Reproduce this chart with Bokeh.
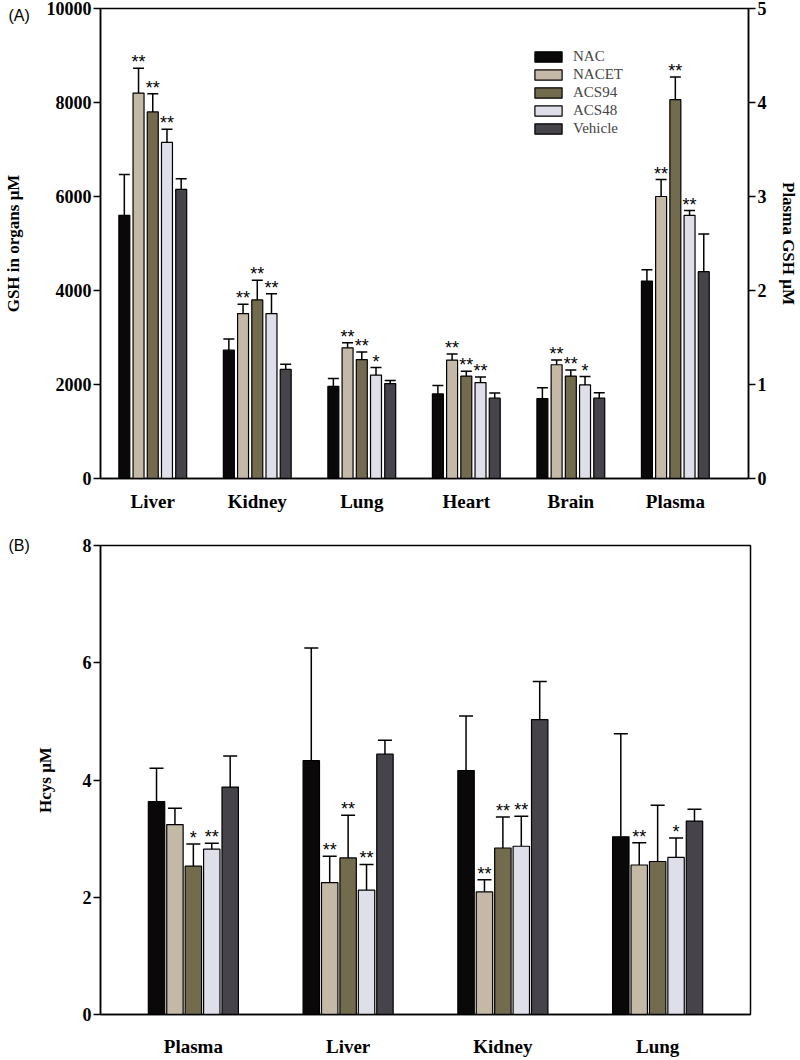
import numpy as np
from bokeh.plotting import figure
from bokeh.models import (Range1d, LinearAxis, FixedTicker, Legend, LegendItem,
                          Whisker, TeeHead, ColumnDataSource, Label)
from bokeh.layouts import column
from bokeh.embed import file_html
from bokeh.resources import INLINE
from bokeh.core.properties import value

# ---------------- data ----------------
series = ["NAC", "NACET", "ACS94", "ACS48", "Vehicle"]
colors = ["#0b0809", "#c4b9a7", "#736b4e", "#dfdfe9", "#46434b"]

# Panel A: GSH in organs (left axis) and plasma (right axis)
organs_A = ["Liver", "Kidney", "Lung", "Heart", "Brain"]
gsh_nac = [5600, 2730, 1960, 1800, 1700]
gsh_nac_err = [870, 240, 170, 180, 230]
gsh_nacet = [8200, 3510, 2780, 2520, 2420]
gsh_nacet_err = [530, 200, 110, 130, 100]
gsh_acs94 = [7800, 3800, 2530, 2180, 2180]
gsh_acs94_err = [385, 420, 160, 100, 130]
gsh_acs48 = [7150, 3510, 2200, 2040, 1990]
gsh_acs48_err = [280, 420, 160, 120, 180]
gsh_vehicle = [6150, 2320, 2020, 1710, 1710]
gsh_vehicle_err = [230, 110, 65, 110, 115]
gsh_stars = [["", "", "", "", ""],
             ["**", "**", "**", "**", "**"],
             ["**", "**", "**", "**", "**"],
             ["**", "**", "*", "**", "*"],
             ["", "", "", "", ""]]

plasma_label = "Plasma"
plasma_gsh = [2.10, 3.00, 4.03, 2.80, 2.20]
plasma_gsh_err = [0.12, 0.18, 0.24, 0.05, 0.40]
plasma_gsh_stars = ["", "**", "**", "**", ""]

# Panel B: Hcys
groups_B = ["Plasma", "Liver", "Kidney", "Lung"]
hcys_nac = [3.63, 4.33, 4.16, 3.03]
hcys_nac_err = [0.57, 1.92, 0.93, 1.76]
hcys_nacet = [3.24, 2.25, 2.09, 2.55]
hcys_nacet_err = [0.28, 0.45, 0.21, 0.38]
hcys_acs94 = [2.53, 2.67, 2.84, 2.61]
hcys_acs94_err = [0.38, 0.73, 0.53, 0.96]
hcys_acs48 = [2.82, 2.12, 2.87, 2.68]
hcys_acs48_err = [0.10, 0.44, 0.51, 0.33]
hcys_vehicle = [3.88, 4.44, 5.03, 3.30]
hcys_vehicle_err = [0.53, 0.24, 0.65, 0.20]
hcys_stars = [["", "", "", ""],
              ["", "**", "**", "**"],
              ["*", "**", "**", ""],
              ["**", "**", "**", "*"],
              ["", "", "", ""]]

gsh_vals = [gsh_nac, gsh_nacet, gsh_acs94, gsh_acs48, gsh_vehicle]
gsh_errs = [gsh_nac_err, gsh_nacet_err, gsh_acs94_err, gsh_acs48_err, gsh_vehicle_err]
hcys_vals = [hcys_nac, hcys_nacet, hcys_acs94, hcys_acs48, hcys_vehicle]
hcys_errs = [hcys_nac_err, hcys_nacet_err, hcys_acs94_err, hcys_acs48_err, hcys_vehicle_err]

SERIF = "Liberation Serif"
SANS = "Liberation Sans"


def style_axis(ax, size="18px"):
    ax.axis_line_width = 1.5
    ax.axis_line_color = "black"
    ax.major_tick_line_width = 1.5
    ax.major_tick_line_color = "black"
    ax.major_tick_in = 0
    ax.major_tick_out = 7
    ax.minor_tick_line_color = None
    ax.major_label_text_font = SERIF
    ax.major_label_text_font_style = "bold"
    ax.major_label_text_font_size = size
    ax.major_label_text_color = "black"
    ax.major_label_standoff = 2
    ax.axis_label_text_font = SERIF
    ax.axis_label_text_font_style = "bold"
    ax.axis_label_text_font_size = "17px"
    ax.axis_label_text_color = "black"


def style_xaxis(ax, labels, standoff):
    ax.ticker = FixedTicker(ticks=list(range(len(labels))))
    ax.major_label_overrides = {i: lab for i, lab in enumerate(labels)}
    ax.axis_line_width = 1.5
    ax.axis_line_color = "black"
    ax.major_tick_line_color = None
    ax.major_tick_in = 0
    ax.major_tick_out = 0
    ax.minor_tick_line_color = None
    ax.major_label_text_font = SERIF
    ax.major_label_text_font_style = "bold"
    ax.major_label_text_font_size = "19px"
    ax.major_label_text_color = "black"
    ax.major_label_standoff = standoff


def draw_series(p, xs, vals, errs, stars, color, width, cap, range_name="default"):
    vals = np.asarray(vals, dtype=float)
    errs = np.asarray(errs, dtype=float)
    src = ColumnDataSource(dict(x=xs, top=vals, hi=vals + errs))
    r = p.vbar(x="x", top="top", bottom=0, width=width, source=src,
               fill_color=color, line_color="black", line_width=1.2,
               y_range_name=range_name)
    w = Whisker(source=src, base="x", lower="top", upper="hi", dimension="height",
                lower_head=None,
                upper_head=TeeHead(size=cap, line_width=1.5, line_color="black"),
                line_color="black", line_width=1.5, y_range_name=range_name)
    p.add_layout(w)
    sx = [x for x, s in zip(xs, stars) if s]
    sy = [h for h, s in zip(vals + errs, stars) if s]
    st = [s for s in stars if s]
    if st:
        p.text(x=sx, y=sy, text=st, text_align="center", text_baseline="bottom",
               text_font=value(SANS), text_font_size="18px", text_color="black",
               y_offset=4, y_range_name=range_name)
    return r


# ---------------- Panel A ----------------
FH_A = 470
pA = figure(frame_width=648, frame_height=FH_A, x_range=Range1d(-0.5, 5.7),
            y_range=Range1d(0, 10000), output_backend="svg", toolbar_location=None,
            min_border_left=97, min_border_right=55, min_border_top=8,
            min_border_bottom=59, background_fill_color="white",
            border_fill_color="white")
pA.extra_y_ranges = {"plasma": Range1d(0, 5)}
pA.grid.visible = False
pA.outline_line_color = "black"
pA.outline_line_width = 1.5

pA.yaxis.ticker = FixedTicker(ticks=[0, 2000, 4000, 6000, 8000, 10000])
pA.yaxis.axis_label = "GSH in organs \u03bcM"
style_axis(pA.yaxis[0])
pA.yaxis.axis_label_standoff = 21

right_ax = LinearAxis(y_range_name="plasma", axis_label="Plasma GSH \u03bcM",
                      ticker=FixedTicker(ticks=[0, 1, 2, 3, 4, 5]))
style_axis(right_ax)
right_ax.axis_label_standoff = 9
pA.add_layout(right_ax, "right")

style_xaxis(pA.xaxis[0], organs_A + [plasma_label], 12)

offA = 0.136
wA = 0.105
renderers = []
base_A = np.arange(len(organs_A))
for i in range(5):
    xs = list(base_A + (i - 2) * offA)
    r = draw_series(pA, xs, gsh_vals[i], gsh_errs[i], gsh_stars[i], colors[i], wA, 11)
    renderers.append(r)
    xp = [len(organs_A) + (i - 2) * offA]
    draw_series(pA, xp, [plasma_gsh[i]], [plasma_gsh_err[i]], [plasma_gsh_stars[i]],
                colors[i], wA, 11, "plasma")

legend = Legend(items=[LegendItem(label=s, renderers=[r]) for s, r in zip(series, renderers)],
                location=(431, 341), glyph_width=34, glyph_height=13, label_height=13,
                spacing=1, padding=0, margin=0, label_standoff=8,
                label_text_font=SERIF, label_text_font_size="15px",
                border_line_color=None, background_fill_alpha=0)
pA.add_layout(legend)

# panel tag, placed in a side panel so it is not clipped to the frame
pA.add_layout(Label(x=-92, y=9850, x_units="screen", y_units="data", text="(A)",
                    text_font=SANS, text_font_size="16px", text_baseline="middle",
                    text_color="black"), "below")

# ---------------- Panel B ----------------
FH_B = 469
pB = figure(frame_width=650, frame_height=FH_B, x_range=Range1d(-0.6, 3.6),
            y_range=Range1d(0, 8), output_backend="svg", toolbar_location=None,
            min_border_left=97, min_border_right=53, min_border_top=8,
            min_border_bottom=44, background_fill_color="white",
            border_fill_color="white")
pB.grid.visible = False
pB.outline_line_color = "black"
pB.outline_line_width = 1.5
pB.yaxis.ticker = FixedTicker(ticks=[0, 2, 4, 6, 8])
pB.yaxis.axis_label = "Hcys \u03bcM"
style_axis(pB.yaxis[0])
pB.yaxis.axis_label_standoff = 25
style_xaxis(pB.xaxis[0], groups_B, 21)

offB = 0.119
wB = 0.106
base_B = np.arange(len(groups_B))
for i in range(5):
    xs = list(base_B + (i - 2) * offB)
    draw_series(pB, xs, hcys_vals[i], hcys_errs[i], hcys_stars[i], colors[i], wB, 14)

pB.add_layout(Label(x=-1.195, y=8, x_units="data", y_units="data", text="(B)",
                    text_font=SANS, text_font_size="16px", text_baseline="middle",
                    text_color="black"), "right")

layout = column(pA, pB, spacing=0)
open("out.html", "w").write(file_html(layout, INLINE))
